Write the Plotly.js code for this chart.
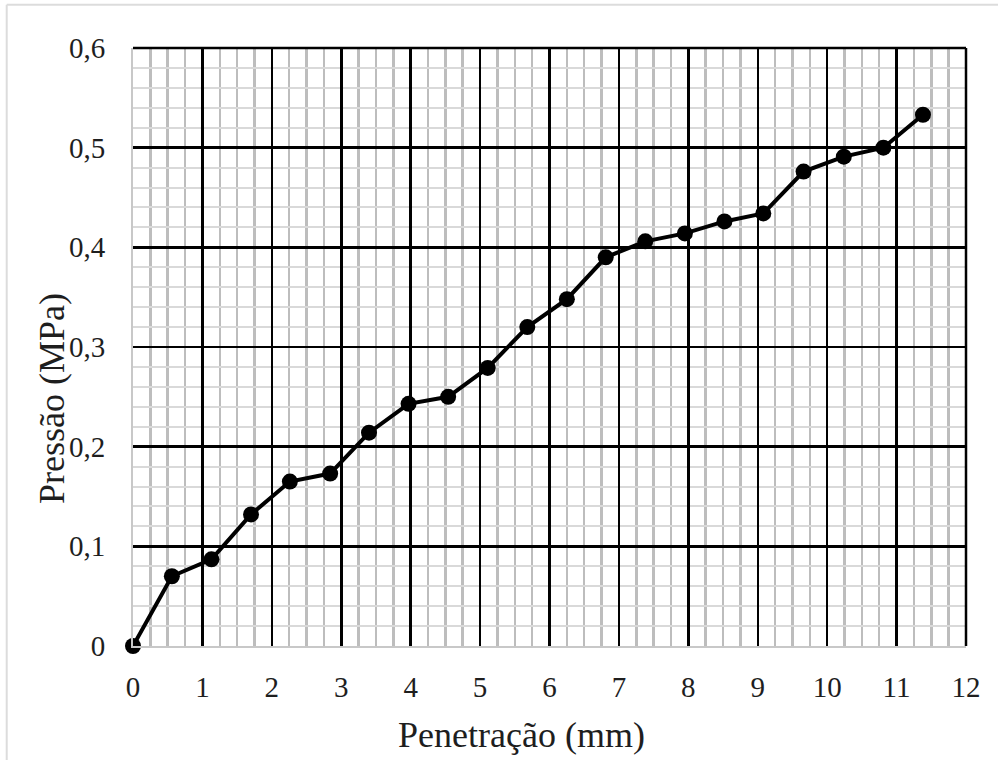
<!DOCTYPE html>
<html>
<head>
<meta charset="utf-8">
<script src="https://cdn.plot.ly/plotly-3.0.1.min.js"></script>
<style>
  html, body { margin: 0; padding: 0; background: #ffffff; }
  #chart { width: 998px; height: 760px; }
</style>
</head>
<body>
<div id="chart"></div>
<script>
// Penetration test: pressure vs. penetration
const penetracao = [0, 0.56, 1.13, 1.70, 2.26, 2.84, 3.40, 3.97, 4.54, 5.11, 5.68,
                    6.25, 6.81, 7.38, 7.95, 8.52, 9.08, 9.66, 10.24, 10.81, 11.38];
const pressao = [0, 0.070, 0.087, 0.132, 0.165, 0.173, 0.214, 0.243, 0.250, 0.279, 0.320,
                 0.348, 0.390, 0.406, 0.414, 0.426, 0.434, 0.476, 0.491, 0.500, 0.533];

const xTicks = [0, 1, 2, 3, 4, 5, 6, 7, 8, 9, 10, 11, 12];
const yTicks = [0, 0.1, 0.2, 0.3, 0.4, 0.5, 0.6];
const yTickText = ['0', '0,1', '0,2', '0,3', '0,4', '0,5', '0,6'];
const xTitle = 'Penetração (mm)';
const yTitle = 'Pressão (MPa)';

const serif = 'Liberation Serif, Times New Roman, serif';
const ink = '#1e1e1e';

const trace = {
  x: penetracao,
  y: pressao,
  type: 'scatter',
  mode: 'lines+markers',
  line: { color: '#000000', width: 4 },
  marker: { color: '#000000', size: 16 },
  cliponaxis: false,
  showlegend: false
};

const layout = {
  width: 998,
  height: 760,
  paper_bgcolor: '#ffffff',
  plot_bgcolor: '#ffffff',
  margin: { l: 133, r: 32, t: 48, b: 114 },
  font: { family: serif, color: ink, size: 29 },
  xaxis: {
    range: [0, 12],
    tickvals: xTicks,
    ticktext: xTicks.map(String),
    showgrid: true,
    gridcolor: '#000000',
    gridwidth: 2.5,
    zeroline: false,
    showline: true,
    linecolor: '#c8c8c8',
    linewidth: 2,
    ticks: '',
    ticklabelstandoff: 14,
    tickfont: { family: serif, size: 29, color: ink },
    minor: { dtick: 0.25, showgrid: true, gridcolor: '#bdbdbd', gridwidth: 2.5 },
    automargin: false,
    fixedrange: true
  },
  yaxis: {
    range: [0, 0.6],
    tickvals: yTicks,
    ticktext: yTickText,
    showgrid: true,
    gridcolor: '#000000',
    gridwidth: 2.5,
    zeroline: false,
    showline: true,
    linecolor: '#c8c8c8',
    linewidth: 2,
    ticks: '',
    ticklabelstandoff: 20,
    tickfont: { family: serif, size: 29, color: ink },
    minor: { dtick: 0.02, showgrid: true, gridcolor: '#d9d9d9', gridwidth: 2 },
    automargin: false,
    fixedrange: true
  },
  // axis titles sit slightly off-centre, so they are placed as annotations
  annotations: [
    { text: xTitle, xref: 'paper', yref: 'paper', x: 0.4658, y: -0.1488,
      xanchor: 'center', yanchor: 'middle', showarrow: false,
      font: { family: serif, size: 36, color: ink } },
    { text: yTitle, xref: 'paper', yref: 'paper', x: -0.0972, y: 0.4131,
      xanchor: 'center', yanchor: 'middle', textangle: -90, showarrow: false,
      font: { family: serif, size: 36, color: ink } }
  ],
  shapes: [
    // major grid lines on the outer top and right edges of the plot area
    { type: 'line', xref: 'paper', yref: 'paper', x0: 0, x1: 1, y0: 1, y1: 1,
      line: { color: '#000000', width: 2.5 } },
    { type: 'line', xref: 'paper', yref: 'paper', x0: 1, x1: 1, y0: 0, y1: 1,
      line: { color: '#000000', width: 2.5 } },
    // light frame along the top and left of the figure
    { type: 'line', xref: 'paper', yref: 'paper', x0: -0.1516, x1: 1.05, y0: 1.0723, y1: 1.0723,
      line: { color: '#dcdcdc', width: 2 } },
    { type: 'line', xref: 'paper', yref: 'paper', x0: -0.1516, x1: -0.1516, y0: -0.25, y1: 1.0723,
      line: { color: '#dcdcdc', width: 2 } }
  ]
};

Plotly.newPlot('chart', [trace], layout, { displayModeBar: false, staticPlot: true });
</script>
</body>
</html>
